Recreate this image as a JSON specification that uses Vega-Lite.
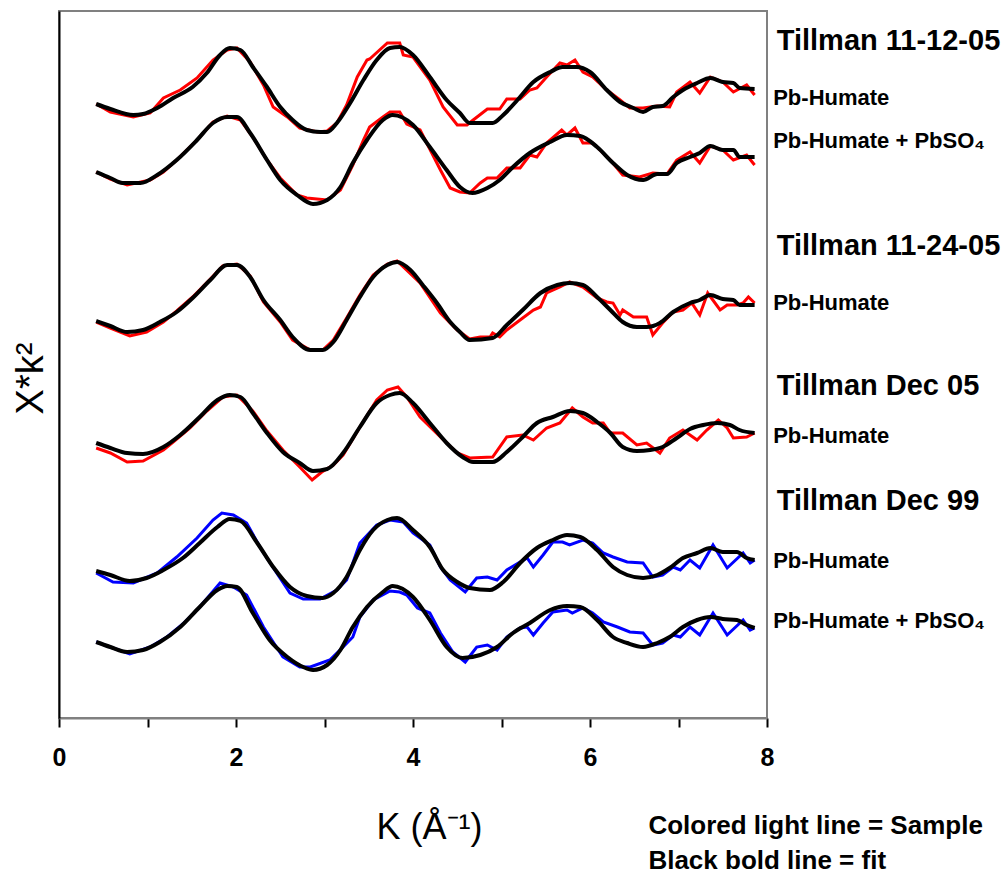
{
"$schema": "https://vega.github.io/schema/vega-lite/v6.json",
"width": 708, "height": 707,
"autosize": "none",
"padding": {"left": 59, "top": 11, "right": 236, "bottom": 159},
"background": "white",
"config": {"view": {"stroke": "#808080", "strokeWidth": 2}, "font": "Liberation Sans"},
"data": {"values": [
{"id":1,"src":"Fit","k":0.42,"y":6.14},{"id":1,"src":"Fit","k":0.58,"y":6.09},{"id":1,"src":"Fit","k":0.84,"y":6.03},{"id":1,"src":"Fit","k":0.95,"y":6.04},{"id":1,"src":"Fit","k":1.11,"y":6.10},{"id":1,"src":"Fit","k":1.29,"y":6.20},{"id":1,"src":"Fit","k":1.51,"y":6.31},{"id":1,"src":"Fit","k":1.67,"y":6.45},{"id":1,"src":"Fit","k":1.82,"y":6.63},{"id":1,"src":"Fit","k":1.93,"y":6.70},{"id":1,"src":"Fit","k":2.05,"y":6.68},{"id":1,"src":"Fit","k":2.19,"y":6.51},{"id":1,"src":"Fit","k":2.35,"y":6.31},{"id":1,"src":"Fit","k":2.50,"y":6.11},{"id":1,"src":"Fit","k":2.64,"y":5.98},{"id":1,"src":"Fit","k":2.80,"y":5.88},{"id":1,"src":"Fit","k":2.95,"y":5.86},{"id":1,"src":"Fit","k":3.03,"y":5.86},{"id":1,"src":"Fit","k":3.14,"y":5.95},{"id":1,"src":"Fit","k":3.29,"y":6.15},{"id":1,"src":"Fit","k":3.44,"y":6.38},{"id":1,"src":"Fit","k":3.59,"y":6.58},{"id":1,"src":"Fit","k":3.74,"y":6.70},{"id":1,"src":"Fit","k":3.85,"y":6.71},{"id":1,"src":"Fit","k":4.00,"y":6.63},{"id":1,"src":"Fit","k":4.19,"y":6.41},{"id":1,"src":"Fit","k":4.38,"y":6.18},{"id":1,"src":"Fit","k":4.53,"y":6.05},{"id":1,"src":"Fit","k":4.64,"y":5.95},{"id":1,"src":"Fit","k":4.90,"y":5.95},{"id":1,"src":"Fit","k":5.02,"y":6.03},{"id":1,"src":"Fit","k":5.18,"y":6.18},{"id":1,"src":"Fit","k":5.36,"y":6.36},{"id":1,"src":"Fit","k":5.55,"y":6.46},{"id":1,"src":"Fit","k":5.69,"y":6.51},{"id":1,"src":"Fit","k":5.85,"y":6.51},{"id":1,"src":"Fit","k":6.00,"y":6.46},{"id":1,"src":"Fit","k":6.19,"y":6.28},{"id":1,"src":"Fit","k":6.34,"y":6.16},{"id":1,"src":"Fit","k":6.49,"y":6.10},{"id":1,"src":"Fit","k":6.60,"y":6.06},{"id":1,"src":"Fit","k":6.71,"y":6.11},{"id":1,"src":"Fit","k":6.82,"y":6.12},{"id":1,"src":"Fit","k":6.94,"y":6.21},{"id":1,"src":"Fit","k":7.05,"y":6.28},{"id":1,"src":"Fit","k":7.21,"y":6.35},{"id":1,"src":"Fit","k":7.36,"y":6.40},{"id":1,"src":"Fit","k":7.50,"y":6.36},{"id":1,"src":"Fit","k":7.62,"y":6.35},{"id":1,"src":"Fit","k":7.69,"y":6.30},{"id":1,"src":"Fit","k":7.86,"y":6.29},
{"id":1,"src":"Sample 2005","k":0.42,"y":6.14},{"id":1,"src":"Sample 2005","k":0.58,"y":6.06},{"id":1,"src":"Sample 2005","k":0.84,"y":6.01},{"id":1,"src":"Sample 2005","k":1.03,"y":6.05},{"id":1,"src":"Sample 2005","k":1.18,"y":6.20},{"id":1,"src":"Sample 2005","k":1.37,"y":6.28},{"id":1,"src":"Sample 2005","k":1.56,"y":6.40},{"id":1,"src":"Sample 2005","k":1.74,"y":6.58},{"id":1,"src":"Sample 2005","k":1.90,"y":6.68},{"id":1,"src":"Sample 2005","k":2.01,"y":6.70},{"id":1,"src":"Sample 2005","k":2.16,"y":6.56},{"id":1,"src":"Sample 2005","k":2.31,"y":6.33},{"id":1,"src":"Sample 2005","k":2.42,"y":6.11},{"id":1,"src":"Sample 2005","k":2.58,"y":6.01},{"id":1,"src":"Sample 2005","k":2.72,"y":5.90},{"id":1,"src":"Sample 2005","k":2.92,"y":5.86},{"id":1,"src":"Sample 2005","k":3.03,"y":5.87},{"id":1,"src":"Sample 2005","k":3.14,"y":5.95},{"id":1,"src":"Sample 2005","k":3.25,"y":6.13},{"id":1,"src":"Sample 2005","k":3.37,"y":6.41},{"id":1,"src":"Sample 2005","k":3.48,"y":6.58},{"id":1,"src":"Sample 2005","k":3.51,"y":6.59},{"id":1,"src":"Sample 2005","k":3.71,"y":6.75},{"id":1,"src":"Sample 2005","k":3.85,"y":6.75},{"id":1,"src":"Sample 2005","k":3.89,"y":6.63},{"id":1,"src":"Sample 2005","k":4.00,"y":6.61},{"id":1,"src":"Sample 2005","k":4.19,"y":6.38},{"id":1,"src":"Sample 2005","k":4.34,"y":6.11},{"id":1,"src":"Sample 2005","k":4.50,"y":5.93},{"id":1,"src":"Sample 2005","k":4.61,"y":5.93},{"id":1,"src":"Sample 2005","k":4.68,"y":5.98},{"id":1,"src":"Sample 2005","k":4.84,"y":6.09},{"id":1,"src":"Sample 2005","k":4.98,"y":6.09},{"id":1,"src":"Sample 2005","k":5.06,"y":6.19},{"id":1,"src":"Sample 2005","k":5.21,"y":6.19},{"id":1,"src":"Sample 2005","k":5.32,"y":6.28},{"id":1,"src":"Sample 2005","k":5.40,"y":6.30},{"id":1,"src":"Sample 2005","k":5.51,"y":6.41},{"id":1,"src":"Sample 2005","k":5.66,"y":6.55},{"id":1,"src":"Sample 2005","k":5.74,"y":6.53},{"id":1,"src":"Sample 2005","k":5.83,"y":6.58},{"id":1,"src":"Sample 2005","k":5.92,"y":6.46},{"id":1,"src":"Sample 2005","k":6.03,"y":6.41},{"id":1,"src":"Sample 2005","k":6.19,"y":6.28},{"id":1,"src":"Sample 2005","k":6.34,"y":6.18},{"id":1,"src":"Sample 2005","k":6.45,"y":6.10},{"id":1,"src":"Sample 2005","k":6.60,"y":6.10},{"id":1,"src":"Sample 2005","k":6.76,"y":6.12},{"id":1,"src":"Sample 2005","k":6.90,"y":6.11},{"id":1,"src":"Sample 2005","k":6.98,"y":6.26},{"id":1,"src":"Sample 2005","k":7.13,"y":6.36},{"id":1,"src":"Sample 2005","k":7.24,"y":6.25},{"id":1,"src":"Sample 2005","k":7.36,"y":6.41},{"id":1,"src":"Sample 2005","k":7.50,"y":6.36},{"id":1,"src":"Sample 2005","k":7.62,"y":6.26},{"id":1,"src":"Sample 2005","k":7.77,"y":6.33},{"id":1,"src":"Sample 2005","k":7.86,"y":6.23},
{"id":2,"src":"Fit","k":0.42,"y":5.46},{"id":2,"src":"Fit","k":0.58,"y":5.40},{"id":2,"src":"Fit","k":0.72,"y":5.35},{"id":2,"src":"Fit","k":0.92,"y":5.35},{"id":2,"src":"Fit","k":1.11,"y":5.43},{"id":2,"src":"Fit","k":1.33,"y":5.58},{"id":2,"src":"Fit","k":1.56,"y":5.78},{"id":2,"src":"Fit","k":1.74,"y":5.95},{"id":2,"src":"Fit","k":1.90,"y":6.01},{"id":2,"src":"Fit","k":2.01,"y":6.01},{"id":2,"src":"Fit","k":2.16,"y":5.85},{"id":2,"src":"Fit","k":2.35,"y":5.58},{"id":2,"src":"Fit","k":2.50,"y":5.38},{"id":2,"src":"Fit","k":2.69,"y":5.23},{"id":2,"src":"Fit","k":2.87,"y":5.14},{"id":2,"src":"Fit","k":3.03,"y":5.18},{"id":2,"src":"Fit","k":3.18,"y":5.31},{"id":2,"src":"Fit","k":3.32,"y":5.55},{"id":2,"src":"Fit","k":3.48,"y":5.78},{"id":2,"src":"Fit","k":3.66,"y":5.98},{"id":2,"src":"Fit","k":3.77,"y":6.03},{"id":2,"src":"Fit","k":4.00,"y":5.93},{"id":2,"src":"Fit","k":4.19,"y":5.71},{"id":2,"src":"Fit","k":4.38,"y":5.48},{"id":2,"src":"Fit","k":4.53,"y":5.31},{"id":2,"src":"Fit","k":4.67,"y":5.25},{"id":2,"src":"Fit","k":4.84,"y":5.30},{"id":2,"src":"Fit","k":4.98,"y":5.38},{"id":2,"src":"Fit","k":5.13,"y":5.51},{"id":2,"src":"Fit","k":5.32,"y":5.65},{"id":2,"src":"Fit","k":5.55,"y":5.76},{"id":2,"src":"Fit","k":5.74,"y":5.83},{"id":2,"src":"Fit","k":5.89,"y":5.82},{"id":2,"src":"Fit","k":6.08,"y":5.71},{"id":2,"src":"Fit","k":6.26,"y":5.55},{"id":2,"src":"Fit","k":6.42,"y":5.43},{"id":2,"src":"Fit","k":6.60,"y":5.38},{"id":2,"src":"Fit","k":6.76,"y":5.44},{"id":2,"src":"Fit","k":6.87,"y":5.44},{"id":2,"src":"Fit","k":6.98,"y":5.55},{"id":2,"src":"Fit","k":7.13,"y":5.61},{"id":2,"src":"Fit","k":7.24,"y":5.65},{"id":2,"src":"Fit","k":7.36,"y":5.72},{"id":2,"src":"Fit","k":7.50,"y":5.68},{"id":2,"src":"Fit","k":7.62,"y":5.68},{"id":2,"src":"Fit","k":7.69,"y":5.61},{"id":2,"src":"Fit","k":7.86,"y":5.61},
{"id":2,"src":"Sample 2005","k":0.42,"y":5.46},{"id":2,"src":"Sample 2005","k":0.58,"y":5.39},{"id":2,"src":"Sample 2005","k":0.77,"y":5.33},{"id":2,"src":"Sample 2005","k":1.03,"y":5.38},{"id":2,"src":"Sample 2005","k":1.18,"y":5.46},{"id":2,"src":"Sample 2005","k":1.33,"y":5.58},{"id":2,"src":"Sample 2005","k":1.56,"y":5.78},{"id":2,"src":"Sample 2005","k":1.74,"y":5.96},{"id":2,"src":"Sample 2005","k":1.90,"y":6.02},{"id":2,"src":"Sample 2005","k":2.05,"y":5.98},{"id":2,"src":"Sample 2005","k":2.19,"y":5.81},{"id":2,"src":"Sample 2005","k":2.35,"y":5.58},{"id":2,"src":"Sample 2005","k":2.50,"y":5.40},{"id":2,"src":"Sample 2005","k":2.69,"y":5.23},{"id":2,"src":"Sample 2005","k":2.80,"y":5.20},{"id":2,"src":"Sample 2005","k":3.03,"y":5.18},{"id":2,"src":"Sample 2005","k":3.18,"y":5.28},{"id":2,"src":"Sample 2005","k":3.32,"y":5.53},{"id":2,"src":"Sample 2005","k":3.44,"y":5.78},{"id":2,"src":"Sample 2005","k":3.51,"y":5.91},{"id":2,"src":"Sample 2005","k":3.66,"y":6.01},{"id":2,"src":"Sample 2005","k":3.74,"y":6.06},{"id":2,"src":"Sample 2005","k":3.85,"y":6.06},{"id":2,"src":"Sample 2005","k":3.93,"y":5.94},{"id":2,"src":"Sample 2005","k":4.08,"y":5.88},{"id":2,"src":"Sample 2005","k":4.31,"y":5.48},{"id":2,"src":"Sample 2005","k":4.42,"y":5.30},{"id":2,"src":"Sample 2005","k":4.53,"y":5.26},{"id":2,"src":"Sample 2005","k":4.64,"y":5.25},{"id":2,"src":"Sample 2005","k":4.76,"y":5.35},{"id":2,"src":"Sample 2005","k":4.84,"y":5.40},{"id":2,"src":"Sample 2005","k":4.95,"y":5.40},{"id":2,"src":"Sample 2005","k":5.06,"y":5.50},{"id":2,"src":"Sample 2005","k":5.21,"y":5.50},{"id":2,"src":"Sample 2005","k":5.32,"y":5.63},{"id":2,"src":"Sample 2005","k":5.40,"y":5.61},{"id":2,"src":"Sample 2005","k":5.44,"y":5.66},{"id":2,"src":"Sample 2005","k":5.51,"y":5.75},{"id":2,"src":"Sample 2005","k":5.68,"y":5.88},{"id":2,"src":"Sample 2005","k":5.74,"y":5.83},{"id":2,"src":"Sample 2005","k":5.83,"y":5.90},{"id":2,"src":"Sample 2005","k":5.92,"y":5.75},{"id":2,"src":"Sample 2005","k":6.03,"y":5.75},{"id":2,"src":"Sample 2005","k":6.23,"y":5.58},{"id":2,"src":"Sample 2005","k":6.37,"y":5.43},{"id":2,"src":"Sample 2005","k":6.56,"y":5.41},{"id":2,"src":"Sample 2005","k":6.71,"y":5.45},{"id":2,"src":"Sample 2005","k":6.87,"y":5.44},{"id":2,"src":"Sample 2005","k":6.98,"y":5.58},{"id":2,"src":"Sample 2005","k":7.13,"y":5.66},{"id":2,"src":"Sample 2005","k":7.24,"y":5.55},{"id":2,"src":"Sample 2005","k":7.36,"y":5.72},{"id":2,"src":"Sample 2005","k":7.50,"y":5.68},{"id":2,"src":"Sample 2005","k":7.62,"y":5.58},{"id":2,"src":"Sample 2005","k":7.77,"y":5.63},{"id":2,"src":"Sample 2005","k":7.86,"y":5.53},
{"id":3,"src":"Fit","k":0.42,"y":3.97},{"id":3,"src":"Fit","k":0.58,"y":3.92},{"id":3,"src":"Fit","k":0.77,"y":3.86},{"id":3,"src":"Fit","k":0.95,"y":3.88},{"id":3,"src":"Fit","k":1.14,"y":3.96},{"id":3,"src":"Fit","k":1.33,"y":4.06},{"id":3,"src":"Fit","k":1.51,"y":4.20},{"id":3,"src":"Fit","k":1.71,"y":4.38},{"id":3,"src":"Fit","k":1.90,"y":4.53},{"id":3,"src":"Fit","k":2.01,"y":4.53},{"id":3,"src":"Fit","k":2.16,"y":4.41},{"id":3,"src":"Fit","k":2.31,"y":4.18},{"id":3,"src":"Fit","k":2.50,"y":3.98},{"id":3,"src":"Fit","k":2.64,"y":3.81},{"id":3,"src":"Fit","k":2.84,"y":3.68},{"id":3,"src":"Fit","k":2.98,"y":3.68},{"id":3,"src":"Fit","k":3.10,"y":3.76},{"id":3,"src":"Fit","k":3.25,"y":3.98},{"id":3,"src":"Fit","k":3.40,"y":4.21},{"id":3,"src":"Fit","k":3.55,"y":4.41},{"id":3,"src":"Fit","k":3.71,"y":4.53},{"id":3,"src":"Fit","k":3.82,"y":4.56},{"id":3,"src":"Fit","k":3.97,"y":4.48},{"id":3,"src":"Fit","k":4.11,"y":4.33},{"id":3,"src":"Fit","k":4.27,"y":4.15},{"id":3,"src":"Fit","k":4.42,"y":3.96},{"id":3,"src":"Fit","k":4.53,"y":3.86},{"id":3,"src":"Fit","k":4.64,"y":3.78},{"id":3,"src":"Fit","k":4.90,"y":3.80},{"id":3,"src":"Fit","k":5.06,"y":3.93},{"id":3,"src":"Fit","k":5.24,"y":4.08},{"id":3,"src":"Fit","k":5.44,"y":4.25},{"id":3,"src":"Fit","k":5.63,"y":4.33},{"id":3,"src":"Fit","k":5.77,"y":4.35},{"id":3,"src":"Fit","k":5.92,"y":4.33},{"id":3,"src":"Fit","k":6.08,"y":4.21},{"id":3,"src":"Fit","k":6.23,"y":4.08},{"id":3,"src":"Fit","k":6.37,"y":3.96},{"id":3,"src":"Fit","k":6.53,"y":3.91},{"id":3,"src":"Fit","k":6.64,"y":3.91},{"id":3,"src":"Fit","k":6.79,"y":3.95},{"id":3,"src":"Fit","k":6.94,"y":4.06},{"id":3,"src":"Fit","k":7.13,"y":4.15},{"id":3,"src":"Fit","k":7.24,"y":4.18},{"id":3,"src":"Fit","k":7.36,"y":4.23},{"id":3,"src":"Fit","k":7.50,"y":4.19},{"id":3,"src":"Fit","k":7.62,"y":4.18},{"id":3,"src":"Fit","k":7.69,"y":4.13},{"id":3,"src":"Fit","k":7.86,"y":4.13},
{"id":3,"src":"Sample 2005","k":0.42,"y":3.96},{"id":3,"src":"Sample 2005","k":0.58,"y":3.90},{"id":3,"src":"Sample 2005","k":0.80,"y":3.82},{"id":3,"src":"Sample 2005","k":0.99,"y":3.86},{"id":3,"src":"Sample 2005","k":1.18,"y":3.96},{"id":3,"src":"Sample 2005","k":1.33,"y":4.07},{"id":3,"src":"Sample 2005","k":1.51,"y":4.21},{"id":3,"src":"Sample 2005","k":1.71,"y":4.39},{"id":3,"src":"Sample 2005","k":1.85,"y":4.52},{"id":3,"src":"Sample 2005","k":2.01,"y":4.54},{"id":3,"src":"Sample 2005","k":2.16,"y":4.42},{"id":3,"src":"Sample 2005","k":2.31,"y":4.16},{"id":3,"src":"Sample 2005","k":2.50,"y":3.96},{"id":3,"src":"Sample 2005","k":2.64,"y":3.78},{"id":3,"src":"Sample 2005","k":2.84,"y":3.68},{"id":3,"src":"Sample 2005","k":2.98,"y":3.68},{"id":3,"src":"Sample 2005","k":3.10,"y":3.78},{"id":3,"src":"Sample 2005","k":3.25,"y":4.00},{"id":3,"src":"Sample 2005","k":3.40,"y":4.23},{"id":3,"src":"Sample 2005","k":3.55,"y":4.43},{"id":3,"src":"Sample 2005","k":3.71,"y":4.54},{"id":3,"src":"Sample 2005","k":3.82,"y":4.57},{"id":3,"src":"Sample 2005","k":4.08,"y":4.35},{"id":3,"src":"Sample 2005","k":4.31,"y":4.05},{"id":3,"src":"Sample 2005","k":4.50,"y":3.88},{"id":3,"src":"Sample 2005","k":4.64,"y":3.79},{"id":3,"src":"Sample 2005","k":4.76,"y":3.81},{"id":3,"src":"Sample 2005","k":4.87,"y":3.81},{"id":3,"src":"Sample 2005","k":4.90,"y":3.85},{"id":3,"src":"Sample 2005","k":4.98,"y":3.81},{"id":3,"src":"Sample 2005","k":5.06,"y":3.88},{"id":3,"src":"Sample 2005","k":5.21,"y":3.98},{"id":3,"src":"Sample 2005","k":5.36,"y":4.08},{"id":3,"src":"Sample 2005","k":5.44,"y":4.11},{"id":3,"src":"Sample 2005","k":5.51,"y":4.25},{"id":3,"src":"Sample 2005","k":5.66,"y":4.31},{"id":3,"src":"Sample 2005","k":5.77,"y":4.36},{"id":3,"src":"Sample 2005","k":5.92,"y":4.31},{"id":3,"src":"Sample 2005","k":6.08,"y":4.20},{"id":3,"src":"Sample 2005","k":6.19,"y":4.16},{"id":3,"src":"Sample 2005","k":6.26,"y":4.15},{"id":3,"src":"Sample 2005","k":6.34,"y":4.03},{"id":3,"src":"Sample 2005","k":6.37,"y":4.08},{"id":3,"src":"Sample 2005","k":6.49,"y":4.01},{"id":3,"src":"Sample 2005","k":6.64,"y":4.01},{"id":3,"src":"Sample 2005","k":6.71,"y":3.83},{"id":3,"src":"Sample 2005","k":6.82,"y":3.95},{"id":3,"src":"Sample 2005","k":6.94,"y":4.06},{"id":3,"src":"Sample 2005","k":7.05,"y":4.08},{"id":3,"src":"Sample 2005","k":7.15,"y":4.15},{"id":3,"src":"Sample 2005","k":7.24,"y":4.03},{"id":3,"src":"Sample 2005","k":7.33,"y":4.25},{"id":3,"src":"Sample 2005","k":7.47,"y":4.08},{"id":3,"src":"Sample 2005","k":7.55,"y":4.13},{"id":3,"src":"Sample 2005","k":7.66,"y":4.13},{"id":3,"src":"Sample 2005","k":7.73,"y":4.15},{"id":3,"src":"Sample 2005","k":7.79,"y":4.21},{"id":3,"src":"Sample 2005","k":7.86,"y":4.15},
{"id":4,"src":"Fit","k":0.42,"y":2.75},{"id":4,"src":"Fit","k":0.58,"y":2.70},{"id":4,"src":"Fit","k":0.77,"y":2.65},{"id":4,"src":"Fit","k":0.95,"y":2.64},{"id":4,"src":"Fit","k":1.18,"y":2.71},{"id":4,"src":"Fit","k":1.37,"y":2.83},{"id":4,"src":"Fit","k":1.59,"y":3.01},{"id":4,"src":"Fit","k":1.79,"y":3.18},{"id":4,"src":"Fit","k":1.93,"y":3.23},{"id":4,"src":"Fit","k":2.05,"y":3.21},{"id":4,"src":"Fit","k":2.19,"y":3.05},{"id":4,"src":"Fit","k":2.35,"y":2.85},{"id":4,"src":"Fit","k":2.53,"y":2.66},{"id":4,"src":"Fit","k":2.72,"y":2.55},{"id":4,"src":"Fit","k":2.87,"y":2.47},{"id":4,"src":"Fit","k":3.03,"y":2.49},{"id":4,"src":"Fit","k":3.21,"y":2.65},{"id":4,"src":"Fit","k":3.40,"y":2.91},{"id":4,"src":"Fit","k":3.59,"y":3.15},{"id":4,"src":"Fit","k":3.74,"y":3.23},{"id":4,"src":"Fit","k":3.85,"y":3.25},{"id":4,"src":"Fit","k":4.00,"y":3.15},{"id":4,"src":"Fit","k":4.19,"y":2.95},{"id":4,"src":"Fit","k":4.38,"y":2.75},{"id":4,"src":"Fit","k":4.56,"y":2.61},{"id":4,"src":"Fit","k":4.68,"y":2.56},{"id":4,"src":"Fit","k":4.90,"y":2.56},{"id":4,"src":"Fit","k":5.06,"y":2.66},{"id":4,"src":"Fit","k":5.24,"y":2.81},{"id":4,"src":"Fit","k":5.40,"y":2.95},{"id":4,"src":"Fit","k":5.58,"y":3.01},{"id":4,"src":"Fit","k":5.77,"y":3.07},{"id":4,"src":"Fit","k":5.92,"y":3.05},{"id":4,"src":"Fit","k":6.08,"y":2.96},{"id":4,"src":"Fit","k":6.23,"y":2.85},{"id":4,"src":"Fit","k":6.37,"y":2.71},{"id":4,"src":"Fit","k":6.53,"y":2.67},{"id":4,"src":"Fit","k":6.68,"y":2.68},{"id":4,"src":"Fit","k":6.82,"y":2.71},{"id":4,"src":"Fit","k":6.98,"y":2.80},{"id":4,"src":"Fit","k":7.13,"y":2.89},{"id":4,"src":"Fit","k":7.28,"y":2.93},{"id":4,"src":"Fit","k":7.44,"y":2.95},{"id":4,"src":"Fit","k":7.58,"y":2.93},{"id":4,"src":"Fit","k":7.69,"y":2.88},{"id":4,"src":"Fit","k":7.86,"y":2.85},
{"id":4,"src":"Sample 2005","k":0.42,"y":2.70},{"id":4,"src":"Sample 2005","k":0.58,"y":2.65},{"id":4,"src":"Sample 2005","k":0.77,"y":2.56},{"id":4,"src":"Sample 2005","k":0.95,"y":2.57},{"id":4,"src":"Sample 2005","k":1.18,"y":2.68},{"id":4,"src":"Sample 2005","k":1.29,"y":2.76},{"id":4,"src":"Sample 2005","k":1.48,"y":2.90},{"id":4,"src":"Sample 2005","k":1.67,"y":3.07},{"id":4,"src":"Sample 2005","k":1.85,"y":3.21},{"id":4,"src":"Sample 2005","k":2.01,"y":3.23},{"id":4,"src":"Sample 2005","k":2.19,"y":3.07},{"id":4,"src":"Sample 2005","k":2.35,"y":2.87},{"id":4,"src":"Sample 2005","k":2.53,"y":2.68},{"id":4,"src":"Sample 2005","k":2.72,"y":2.51},{"id":4,"src":"Sample 2005","k":2.86,"y":2.38},{"id":4,"src":"Sample 2005","k":2.97,"y":2.46},{"id":4,"src":"Sample 2005","k":3.10,"y":2.53},{"id":4,"src":"Sample 2005","k":3.21,"y":2.63},{"id":4,"src":"Sample 2005","k":3.40,"y":2.91},{"id":4,"src":"Sample 2005","k":3.59,"y":3.18},{"id":4,"src":"Sample 2005","k":3.71,"y":3.28},{"id":4,"src":"Sample 2005","k":3.83,"y":3.31},{"id":4,"src":"Sample 2005","k":3.93,"y":3.21},{"id":4,"src":"Sample 2005","k":4.08,"y":3.01},{"id":4,"src":"Sample 2005","k":4.31,"y":2.81},{"id":4,"src":"Sample 2005","k":4.50,"y":2.65},{"id":4,"src":"Sample 2005","k":4.64,"y":2.60},{"id":4,"src":"Sample 2005","k":4.90,"y":2.61},{"id":4,"src":"Sample 2005","k":5.06,"y":2.81},{"id":4,"src":"Sample 2005","k":5.24,"y":2.83},{"id":4,"src":"Sample 2005","k":5.36,"y":2.78},{"id":4,"src":"Sample 2005","k":5.51,"y":2.90},{"id":4,"src":"Sample 2005","k":5.66,"y":2.95},{"id":4,"src":"Sample 2005","k":5.80,"y":3.10},{"id":4,"src":"Sample 2005","k":5.92,"y":3.01},{"id":4,"src":"Sample 2005","k":6.03,"y":2.95},{"id":4,"src":"Sample 2005","k":6.15,"y":2.95},{"id":4,"src":"Sample 2005","k":6.23,"y":2.85},{"id":4,"src":"Sample 2005","k":6.37,"y":2.85},{"id":4,"src":"Sample 2005","k":6.53,"y":2.73},{"id":4,"src":"Sample 2005","k":6.64,"y":2.75},{"id":4,"src":"Sample 2005","k":6.79,"y":2.65},{"id":4,"src":"Sample 2005","k":6.90,"y":2.80},{"id":4,"src":"Sample 2005","k":7.05,"y":2.88},{"id":4,"src":"Sample 2005","k":7.21,"y":2.78},{"id":4,"src":"Sample 2005","k":7.32,"y":2.88},{"id":4,"src":"Sample 2005","k":7.45,"y":2.98},{"id":4,"src":"Sample 2005","k":7.55,"y":2.90},{"id":4,"src":"Sample 2005","k":7.62,"y":2.80},{"id":4,"src":"Sample 2005","k":7.77,"y":2.81},{"id":4,"src":"Sample 2005","k":7.86,"y":2.85},
{"id":5,"src":"Fit","k":0.42,"y":1.47},{"id":5,"src":"Fit","k":0.58,"y":1.43},{"id":5,"src":"Fit","k":0.80,"y":1.37},{"id":5,"src":"Fit","k":0.99,"y":1.40},{"id":5,"src":"Fit","k":1.18,"y":1.48},{"id":5,"src":"Fit","k":1.40,"y":1.60},{"id":5,"src":"Fit","k":1.59,"y":1.75},{"id":5,"src":"Fit","k":1.79,"y":1.91},{"id":5,"src":"Fit","k":1.93,"y":1.99},{"id":5,"src":"Fit","k":2.05,"y":1.97},{"id":5,"src":"Fit","k":2.24,"y":1.75},{"id":5,"src":"Fit","k":2.42,"y":1.51},{"id":5,"src":"Fit","k":2.61,"y":1.31},{"id":5,"src":"Fit","k":2.80,"y":1.22},{"id":5,"src":"Fit","k":2.98,"y":1.20},{"id":5,"src":"Fit","k":3.10,"y":1.25},{"id":5,"src":"Fit","k":3.25,"y":1.41},{"id":5,"src":"Fit","k":3.40,"y":1.68},{"id":5,"src":"Fit","k":3.55,"y":1.88},{"id":5,"src":"Fit","k":3.71,"y":1.98},{"id":5,"src":"Fit","k":3.82,"y":2.00},{"id":5,"src":"Fit","k":4.00,"y":1.88},{"id":5,"src":"Fit","k":4.19,"y":1.71},{"id":5,"src":"Fit","k":4.34,"y":1.48},{"id":5,"src":"Fit","k":4.50,"y":1.36},{"id":5,"src":"Fit","k":4.64,"y":1.30},{"id":5,"src":"Fit","k":4.87,"y":1.28},{"id":5,"src":"Fit","k":5.02,"y":1.36},{"id":5,"src":"Fit","k":5.21,"y":1.55},{"id":5,"src":"Fit","k":5.40,"y":1.70},{"id":5,"src":"Fit","k":5.58,"y":1.78},{"id":5,"src":"Fit","k":5.74,"y":1.83},{"id":5,"src":"Fit","k":5.89,"y":1.81},{"id":5,"src":"Fit","k":6.08,"y":1.68},{"id":5,"src":"Fit","k":6.26,"y":1.51},{"id":5,"src":"Fit","k":6.42,"y":1.43},{"id":5,"src":"Fit","k":6.60,"y":1.40},{"id":5,"src":"Fit","k":6.76,"y":1.43},{"id":5,"src":"Fit","k":6.90,"y":1.50},{"id":5,"src":"Fit","k":7.05,"y":1.60},{"id":5,"src":"Fit","k":7.21,"y":1.65},{"id":5,"src":"Fit","k":7.36,"y":1.70},{"id":5,"src":"Fit","k":7.50,"y":1.66},{"id":5,"src":"Fit","k":7.66,"y":1.66},{"id":5,"src":"Fit","k":7.77,"y":1.60},{"id":5,"src":"Fit","k":7.86,"y":1.58},
{"id":5,"src":"Sample 1999","k":0.42,"y":1.45},{"id":5,"src":"Sample 1999","k":0.61,"y":1.36},{"id":5,"src":"Sample 1999","k":0.84,"y":1.35},{"id":5,"src":"Sample 1999","k":1.11,"y":1.45},{"id":5,"src":"Sample 1999","k":1.33,"y":1.61},{"id":5,"src":"Sample 1999","k":1.56,"y":1.80},{"id":5,"src":"Sample 1999","k":1.74,"y":1.98},{"id":5,"src":"Sample 1999","k":1.84,"y":2.05},{"id":5,"src":"Sample 1999","k":1.97,"y":2.03},{"id":5,"src":"Sample 1999","k":2.12,"y":1.95},{"id":5,"src":"Sample 1999","k":2.27,"y":1.71},{"id":5,"src":"Sample 1999","k":2.46,"y":1.45},{"id":5,"src":"Sample 1999","k":2.61,"y":1.25},{"id":5,"src":"Sample 1999","k":2.76,"y":1.19},{"id":5,"src":"Sample 1999","k":2.95,"y":1.19},{"id":5,"src":"Sample 1999","k":3.14,"y":1.28},{"id":5,"src":"Sample 1999","k":3.25,"y":1.38},{"id":5,"src":"Sample 1999","k":3.32,"y":1.55},{"id":5,"src":"Sample 1999","k":3.40,"y":1.75},{"id":5,"src":"Sample 1999","k":3.59,"y":1.93},{"id":5,"src":"Sample 1999","k":3.74,"y":1.98},{"id":5,"src":"Sample 1999","k":3.89,"y":1.96},{"id":5,"src":"Sample 1999","k":4.00,"y":1.85},{"id":5,"src":"Sample 1999","k":4.19,"y":1.73},{"id":5,"src":"Sample 1999","k":4.31,"y":1.51},{"id":5,"src":"Sample 1999","k":4.42,"y":1.38},{"id":5,"src":"Sample 1999","k":4.59,"y":1.26},{"id":5,"src":"Sample 1999","k":4.72,"y":1.40},{"id":5,"src":"Sample 1999","k":4.84,"y":1.41},{"id":5,"src":"Sample 1999","k":4.95,"y":1.38},{"id":5,"src":"Sample 1999","k":5.06,"y":1.48},{"id":5,"src":"Sample 1999","k":5.21,"y":1.56},{"id":5,"src":"Sample 1999","k":5.29,"y":1.60},{"id":5,"src":"Sample 1999","k":5.36,"y":1.51},{"id":5,"src":"Sample 1999","k":5.47,"y":1.63},{"id":5,"src":"Sample 1999","k":5.58,"y":1.76},{"id":5,"src":"Sample 1999","k":5.69,"y":1.76},{"id":5,"src":"Sample 1999","k":5.77,"y":1.73},{"id":5,"src":"Sample 1999","k":5.92,"y":1.78},{"id":5,"src":"Sample 1999","k":6.03,"y":1.75},{"id":5,"src":"Sample 1999","k":6.15,"y":1.65},{"id":5,"src":"Sample 1999","k":6.26,"y":1.61},{"id":5,"src":"Sample 1999","k":6.42,"y":1.56},{"id":5,"src":"Sample 1999","k":6.60,"y":1.55},{"id":5,"src":"Sample 1999","k":6.71,"y":1.41},{"id":5,"src":"Sample 1999","k":6.82,"y":1.43},{"id":5,"src":"Sample 1999","k":6.94,"y":1.51},{"id":5,"src":"Sample 1999","k":7.02,"y":1.48},{"id":5,"src":"Sample 1999","k":7.13,"y":1.58},{"id":5,"src":"Sample 1999","k":7.24,"y":1.50},{"id":5,"src":"Sample 1999","k":7.39,"y":1.73},{"id":5,"src":"Sample 1999","k":7.55,"y":1.50},{"id":5,"src":"Sample 1999","k":7.73,"y":1.65},{"id":5,"src":"Sample 1999","k":7.81,"y":1.55},{"id":5,"src":"Sample 1999","k":7.86,"y":1.58},
{"id":6,"src":"Fit","k":0.42,"y":0.76},{"id":6,"src":"Fit","k":0.58,"y":0.71},{"id":6,"src":"Fit","k":0.77,"y":0.66},{"id":6,"src":"Fit","k":0.95,"y":0.68},{"id":6,"src":"Fit","k":1.14,"y":0.76},{"id":6,"src":"Fit","k":1.37,"y":0.91},{"id":6,"src":"Fit","k":1.59,"y":1.11},{"id":6,"src":"Fit","k":1.79,"y":1.28},{"id":6,"src":"Fit","k":1.90,"y":1.32},{"id":6,"src":"Fit","k":2.01,"y":1.31},{"id":6,"src":"Fit","k":2.19,"y":1.05},{"id":6,"src":"Fit","k":2.38,"y":0.78},{"id":6,"src":"Fit","k":2.58,"y":0.61},{"id":6,"src":"Fit","k":2.76,"y":0.51},{"id":6,"src":"Fit","k":2.87,"y":0.48},{"id":6,"src":"Fit","k":3.03,"y":0.53},{"id":6,"src":"Fit","k":3.18,"y":0.68},{"id":6,"src":"Fit","k":3.32,"y":0.91},{"id":6,"src":"Fit","k":3.48,"y":1.11},{"id":6,"src":"Fit","k":3.66,"y":1.26},{"id":6,"src":"Fit","k":3.77,"y":1.32},{"id":6,"src":"Fit","k":4.00,"y":1.21},{"id":6,"src":"Fit","k":4.19,"y":0.98},{"id":6,"src":"Fit","k":4.38,"y":0.71},{"id":6,"src":"Fit","k":4.56,"y":0.60},{"id":6,"src":"Fit","k":4.76,"y":0.63},{"id":6,"src":"Fit","k":4.95,"y":0.71},{"id":6,"src":"Fit","k":5.13,"y":0.85},{"id":6,"src":"Fit","k":5.32,"y":0.95},{"id":6,"src":"Fit","k":5.55,"y":1.08},{"id":6,"src":"Fit","k":5.74,"y":1.12},{"id":6,"src":"Fit","k":5.89,"y":1.11},{"id":6,"src":"Fit","k":6.08,"y":0.98},{"id":6,"src":"Fit","k":6.26,"y":0.81},{"id":6,"src":"Fit","k":6.42,"y":0.75},{"id":6,"src":"Fit","k":6.60,"y":0.71},{"id":6,"src":"Fit","k":6.76,"y":0.75},{"id":6,"src":"Fit","k":6.90,"y":0.81},{"id":6,"src":"Fit","k":7.05,"y":0.91},{"id":6,"src":"Fit","k":7.21,"y":0.98},{"id":6,"src":"Fit","k":7.36,"y":1.01},{"id":6,"src":"Fit","k":7.50,"y":0.99},{"id":6,"src":"Fit","k":7.66,"y":0.98},{"id":6,"src":"Fit","k":7.77,"y":0.93},{"id":6,"src":"Fit","k":7.86,"y":0.90},
{"id":6,"src":"Sample 1999","k":0.42,"y":0.76},{"id":6,"src":"Sample 1999","k":0.61,"y":0.70},{"id":6,"src":"Sample 1999","k":0.80,"y":0.64},{"id":6,"src":"Sample 1999","k":1.03,"y":0.71},{"id":6,"src":"Sample 1999","k":1.22,"y":0.81},{"id":6,"src":"Sample 1999","k":1.40,"y":0.94},{"id":6,"src":"Sample 1999","k":1.59,"y":1.11},{"id":6,"src":"Sample 1999","k":1.82,"y":1.35},{"id":6,"src":"Sample 1999","k":1.97,"y":1.31},{"id":6,"src":"Sample 1999","k":2.12,"y":1.23},{"id":6,"src":"Sample 1999","k":2.31,"y":0.91},{"id":6,"src":"Sample 1999","k":2.53,"y":0.61},{"id":6,"src":"Sample 1999","k":2.72,"y":0.51},{"id":6,"src":"Sample 1999","k":2.84,"y":0.51},{"id":6,"src":"Sample 1999","k":3.06,"y":0.58},{"id":6,"src":"Sample 1999","k":3.21,"y":0.71},{"id":6,"src":"Sample 1999","k":3.32,"y":0.81},{"id":6,"src":"Sample 1999","k":3.40,"y":1.01},{"id":6,"src":"Sample 1999","k":3.55,"y":1.18},{"id":6,"src":"Sample 1999","k":3.74,"y":1.27},{"id":6,"src":"Sample 1999","k":3.85,"y":1.26},{"id":6,"src":"Sample 1999","k":3.93,"y":1.23},{"id":6,"src":"Sample 1999","k":4.05,"y":1.10},{"id":6,"src":"Sample 1999","k":4.19,"y":1.05},{"id":6,"src":"Sample 1999","k":4.31,"y":0.85},{"id":6,"src":"Sample 1999","k":4.45,"y":0.66},{"id":6,"src":"Sample 1999","k":4.59,"y":0.56},{"id":6,"src":"Sample 1999","k":4.72,"y":0.71},{"id":6,"src":"Sample 1999","k":4.84,"y":0.73},{"id":6,"src":"Sample 1999","k":4.95,"y":0.68},{"id":6,"src":"Sample 1999","k":5.06,"y":0.81},{"id":6,"src":"Sample 1999","k":5.21,"y":0.90},{"id":6,"src":"Sample 1999","k":5.29,"y":0.91},{"id":6,"src":"Sample 1999","k":5.36,"y":0.83},{"id":6,"src":"Sample 1999","k":5.47,"y":0.95},{"id":6,"src":"Sample 1999","k":5.58,"y":1.06},{"id":6,"src":"Sample 1999","k":5.74,"y":1.08},{"id":6,"src":"Sample 1999","k":5.80,"y":1.05},{"id":6,"src":"Sample 1999","k":5.92,"y":1.10},{"id":6,"src":"Sample 1999","k":6.03,"y":1.05},{"id":6,"src":"Sample 1999","k":6.15,"y":0.96},{"id":6,"src":"Sample 1999","k":6.31,"y":0.91},{"id":6,"src":"Sample 1999","k":6.45,"y":0.86},{"id":6,"src":"Sample 1999","k":6.60,"y":0.85},{"id":6,"src":"Sample 1999","k":6.71,"y":0.73},{"id":6,"src":"Sample 1999","k":6.82,"y":0.75},{"id":6,"src":"Sample 1999","k":6.94,"y":0.83},{"id":6,"src":"Sample 1999","k":7.02,"y":0.81},{"id":6,"src":"Sample 1999","k":7.13,"y":0.91},{"id":6,"src":"Sample 1999","k":7.24,"y":0.83},{"id":6,"src":"Sample 1999","k":7.39,"y":1.05},{"id":6,"src":"Sample 1999","k":7.55,"y":0.83},{"id":6,"src":"Sample 1999","k":7.73,"y":0.98},{"id":6,"src":"Sample 1999","k":7.81,"y":0.88},{"id":6,"src":"Sample 1999","k":7.86,"y":0.90}
]},
"encoding": {
  "x": {"field": "k", "type": "quantitative", "scale": {"domain": [0, 8], "nice": false},
    "axis": {"title": "K (Å⁻¹)", "values": [0,1,2,3,4,5,6,7,8],
      "labelExpr": "datum.value % 2 === 0 ? datum.label : ''",
      "grid": false, "labelFlush": false, "labelFont": "Liberation Sans", "labelFontWeight": "bold", "labelFontSize": 25, "labelColor": "#000", "labelPadding": 18,
      "tickColor": "#000", "tickWidth": 2, "tickSize": 9,
      "domainColor": "#808080", "domainWidth": 2,
      "titleFont": "Liberation Sans", "titleFontSize": 36, "titleFontWeight": "normal", "titleColor": "#000",
      "titleX": 370, "titleY": 120, "titleAlign": "center", "titleBaseline": "alphabetic"}},
  "y": {"field": "y", "type": "quantitative", "scale": {"domain": [0, 7.07], "nice": false, "zero": false},
    "axis": {"title": "X*k²", "ticks": false, "labels": false, "grid": false,
      "domainColor": "#000", "domainWidth": 2,
      "titleFont": "Liberation Sans", "titleFontSize": 38, "titleFontWeight": "normal", "titleColor": "#000",
      "titleX": -17, "titleY": 367, "titleAngle": -90, "titleAlign": "center", "titleBaseline": "alphabetic"}}
},
"layer": [
  {"transform": [{"filter": "datum.src !== 'Fit'"}],
   "mark": {"type": "line", "strokeWidth": 3},
   "encoding": {"color": {"field": "src", "type": "nominal", "scale": {"domain": ["Sample 2005", "Sample 1999", "Fit"], "range": ["#ff0000", "#0000ff", "#000000"]}, "legend": null},
     "detail": {"field": "id"}}},
  {"transform": [{"filter": "datum.src === 'Fit'"}],
   "mark": {"type": "line", "strokeWidth": 4, "interpolate": "monotone"},
   "encoding": {"color": {"field": "src", "type": "nominal", "legend": null},
     "detail": {"field": "id"}}},
  {"data": {"values": [
     {"label": "Tillman 11-12-05", "k": 8.11, "y": 6.68},
     {"label": "Tillman 11-24-05", "k": 8.11, "y": 4.63},
     {"label": "Tillman Dec 05", "k": 8.11, "y": 3.23},
     {"label": "Tillman Dec 99", "k": 8.11, "y": 2.08}]},
   "mark": {"type": "text", "align": "left", "baseline": "alphabetic", "font": "Liberation Sans", "fontWeight": "bold", "fontSize": 29, "color": "#000"},
   "encoding": {"text": {"field": "label"}}},
  {"data": {"values": [
     {"label": "Pb-Humate", "k": 8.07, "y": 6.13},
     {"label": "Pb-Humate + PbSO₄", "k": 8.07, "y": 5.70},
     {"label": "Pb-Humate", "k": 8.07, "y": 4.08},
     {"label": "Pb-Humate", "k": 8.07, "y": 2.75},
     {"label": "Pb-Humate", "k": 8.07, "y": 1.50},
     {"label": "Pb-Humate + PbSO₄", "k": 8.07, "y": 0.90}]},
   "mark": {"type": "text", "align": "left", "baseline": "alphabetic", "font": "Liberation Sans", "fontWeight": "bold", "fontSize": 22, "color": "#000"},
   "encoding": {"text": {"field": "label"}}},
  {"data": {"values": [
     {"label": "Colored light line = Sample", "k": 6.66, "y": -1.16},
     {"label": "Black bold line = fit", "k": 6.66, "y": -1.51}]},
   "mark": {"type": "text", "align": "left", "baseline": "alphabetic", "font": "Liberation Sans", "fontWeight": "bold", "fontSize": 26, "color": "#000"},
   "encoding": {"text": {"field": "label"}}}
]
}
